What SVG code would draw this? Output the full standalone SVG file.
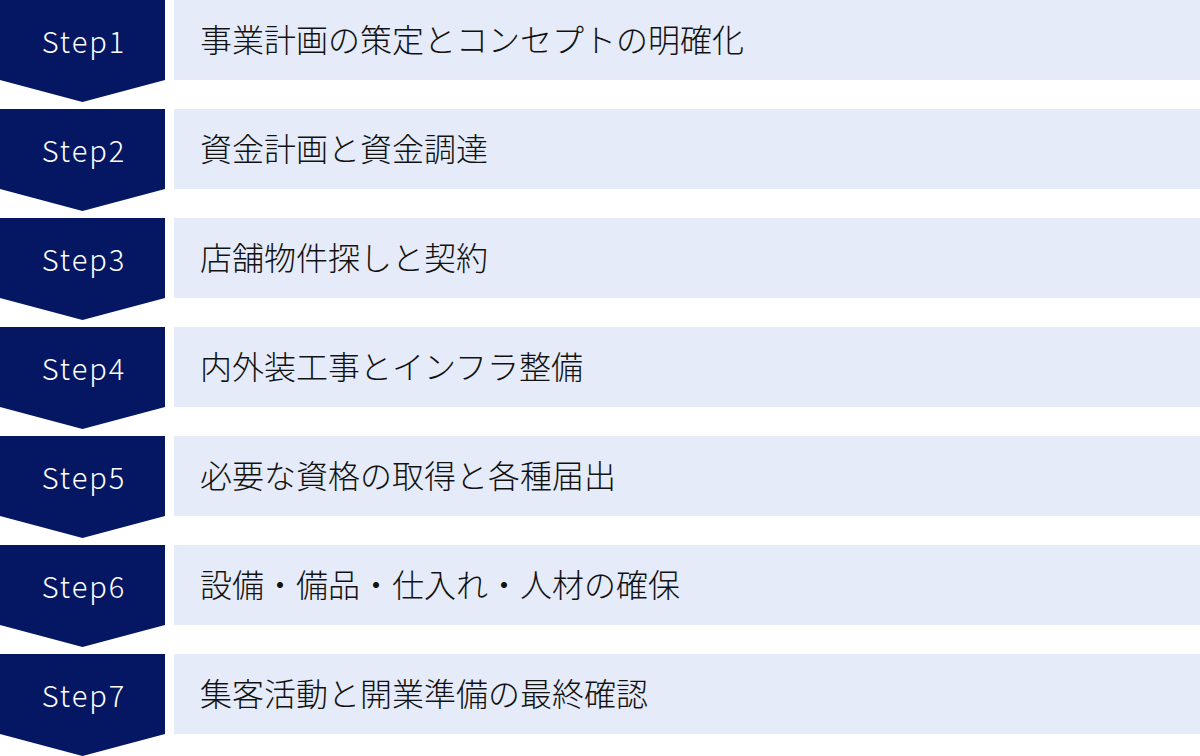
<svg xmlns="http://www.w3.org/2000/svg" width="1200" height="756" viewBox="0 0 1200 756">
<style>
.chev{fill:#051762}
.box{fill:#E5EBF8}
.st{font-family:"Noto Sans CJK JP","Noto Sans",sans-serif;font-size:29px;font-weight:300;fill:#fff;text-anchor:middle;letter-spacing:2px}
.lb{font-family:"Noto Sans CJK JP",sans-serif;font-size:32px;font-weight:300;fill:#111}
</style>
<defs>
<path id="chv" d="M0 0H165V80L82.5 102L0 80Z"/>
</defs>
<rect width="1200" height="756" fill="#fff"/>
<g id="step1" transform="translate(0,0)">
<use href="#chv" class="chev"/><rect class="box" x="174" y="0" width="1026" height="80"/>
<text class="st" x="84" y="53">Step1</text><text class="lb" x="200" y="52">事業計画の策定とコンセプトの明確化</text>
</g>
<g id="step2" transform="translate(0,109)">
<use href="#chv" class="chev"/><rect class="box" x="174" y="0" width="1026" height="80"/>
<text class="st" x="84" y="53">Step2</text><text class="lb" x="200" y="52">資金計画と資金調達</text>
</g>
<g id="step3" transform="translate(0,218)">
<use href="#chv" class="chev"/><rect class="box" x="174" y="0" width="1026" height="80"/>
<text class="st" x="84" y="53">Step3</text><text class="lb" x="200" y="52">店舗物件探しと契約</text>
</g>
<g id="step4" transform="translate(0,327)">
<use href="#chv" class="chev"/><rect class="box" x="174" y="0" width="1026" height="80"/>
<text class="st" x="84" y="53">Step4</text><text class="lb" x="200" y="52">内外装工事とインフラ整備</text>
</g>
<g id="step5" transform="translate(0,436)">
<use href="#chv" class="chev"/><rect class="box" x="174" y="0" width="1026" height="80"/>
<text class="st" x="84" y="53">Step5</text><text class="lb" x="200" y="52">必要な資格の取得と各種届出</text>
</g>
<g id="step6" transform="translate(0,545)">
<use href="#chv" class="chev"/><rect class="box" x="174" y="0" width="1026" height="80"/>
<text class="st" x="84" y="53">Step6</text><text class="lb" x="200" y="52">設備・備品・仕入れ・人材の確保</text>
</g>
<g id="step7" transform="translate(0,654)">
<use href="#chv" class="chev"/><rect class="box" x="174" y="0" width="1026" height="80"/>
<text class="st" x="84" y="53">Step7</text><text class="lb" x="200" y="52">集客活動と開業準備の最終確認</text>
</g>
</svg>
